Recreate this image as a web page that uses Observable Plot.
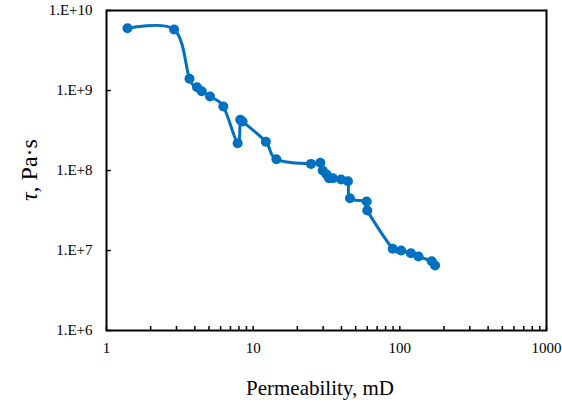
<!DOCTYPE html>
<html>
<head>
<meta charset="utf-8">
<script src="https://cdn.jsdelivr.net/npm/d3@7"></script>
<script src="https://cdn.jsdelivr.net/npm/@observablehq/plot@0.6"></script>
<style>
  html, body { margin: 0; padding: 0; background: #fff; }
</style>
</head>
<body>
<div id="chart"></div>
<script>
// Permeability (mD) and relaxation time τ (Pa·s) for each sample
const permeability = [1.39, 2.89, 3.68, 4.14, 4.46, 5.08, 6.26, 7.84, 8.17, 8.46,
  12.2, 14.4, 24.8, 28.7, 29.8, 31.7, 32.9, 35.0, 39.8, 44.3,
  45.7, 59.4, 60.0, 89.4, 102, 119, 134, 165, 174];
const tau = [6.0e9, 5.79e9, 1.40e9, 1.10e9, 9.8e8, 8.4e8, 6.3e8, 2.19e8, 4.3e8, 4.1e8,
  2.29e8, 1.38e8, 1.21e8, 1.25e8, 1.0e8, 8.9e7, 8.0e7, 8.0e7, 7.7e7, 7.35e7,
  4.5e7, 4.1e7, 3.16e7, 1.05e7, 1.0e7, 9.25e6, 8.4e6, 7.35e6, 6.5e6];

// Axis ticks
const xTicks = [1, 10, 100, 1000];
const yTicks = [1e6, 1e7, 1e8, 1e9, 1e10];
const xMinorTicks = [1, 10, 100].flatMap(d => [2, 3, 4, 5, 6, 7, 8, 9].map(m => m * d));

const data = permeability.map((k, i) => ({k, tau: tau[i]}));

const W = 562, H = 402;
const mL = 106, mR = 16, mT = 10, mB = 72;
const innerW = W - mL - mR, innerH = H - mT - mB;
const blue = "#0070C0";
const serif = "'Liberation Serif', 'Times New Roman', Times, serif";

const chart = Plot.plot({
  width: W,
  height: H,
  marginLeft: mL,
  marginRight: mR,
  marginTop: mT,
  marginBottom: mB,
  style: {fontSize: "15px", color: "black", background: "white"},
  x: {type: "log", domain: [1, 1000]},
  y: {type: "log", domain: [1e6, 1e10]},
  marks: [
    // inward tick marks
    Plot.tickX([...xTicks, ...xMinorTicks], {x: d => d, insetTop: innerH - 4, stroke: "black", strokeWidth: 1.5}),
    Plot.tickY(yTicks, {y: d => d, insetRight: innerW - 5, stroke: "black", strokeWidth: 1.5}),
    Plot.axisX(xTicks, {tickSize: 0, tickPadding: 12, tickFormat: d => String(d), label: null, fontSize: 15}),
    Plot.axisY(yTicks, {tickSize: 0, tickPadding: 14, tickFormat: d => `1.E+${Math.round(Math.log10(d))}`, label: null, fontSize: 15}),
    Plot.frame({stroke: "black", strokeWidth: 2}),
    Plot.line(data, {x: "k", y: "tau", stroke: blue, strokeWidth: 3, curve: "cardinal", tension: 0}),
    Plot.dot(data, {x: "k", y: "tau", r: 5, fill: blue})
  ]
});

// Axis titles
const svg = d3.select(chart);
svg.append("text")
  .attr("x", mL + innerW / 2 - 6)
  .attr("y", 395)
  .attr("text-anchor", "middle")
  .style("font-size", "21px")
  .attr("fill", "black")
  .text("Permeability, mD");

const yTitle = svg.append("text")
  .attr("transform", `translate(37,${mT + innerH / 2}) rotate(-90)`)
  .attr("text-anchor", "middle")
  .style("font-size", "24px")
  .attr("fill", "black");
yTitle.append("tspan").style("font-style", "italic").text("τ");
yTitle.append("tspan").text(", Pa·s");

// Times-style lettering throughout
svg.style("font-family", serif);
svg.selectAll("text").style("font-family", serif).style("font-variant", "normal");

document.getElementById("chart").appendChild(chart);
</script>
</body>
</html>
